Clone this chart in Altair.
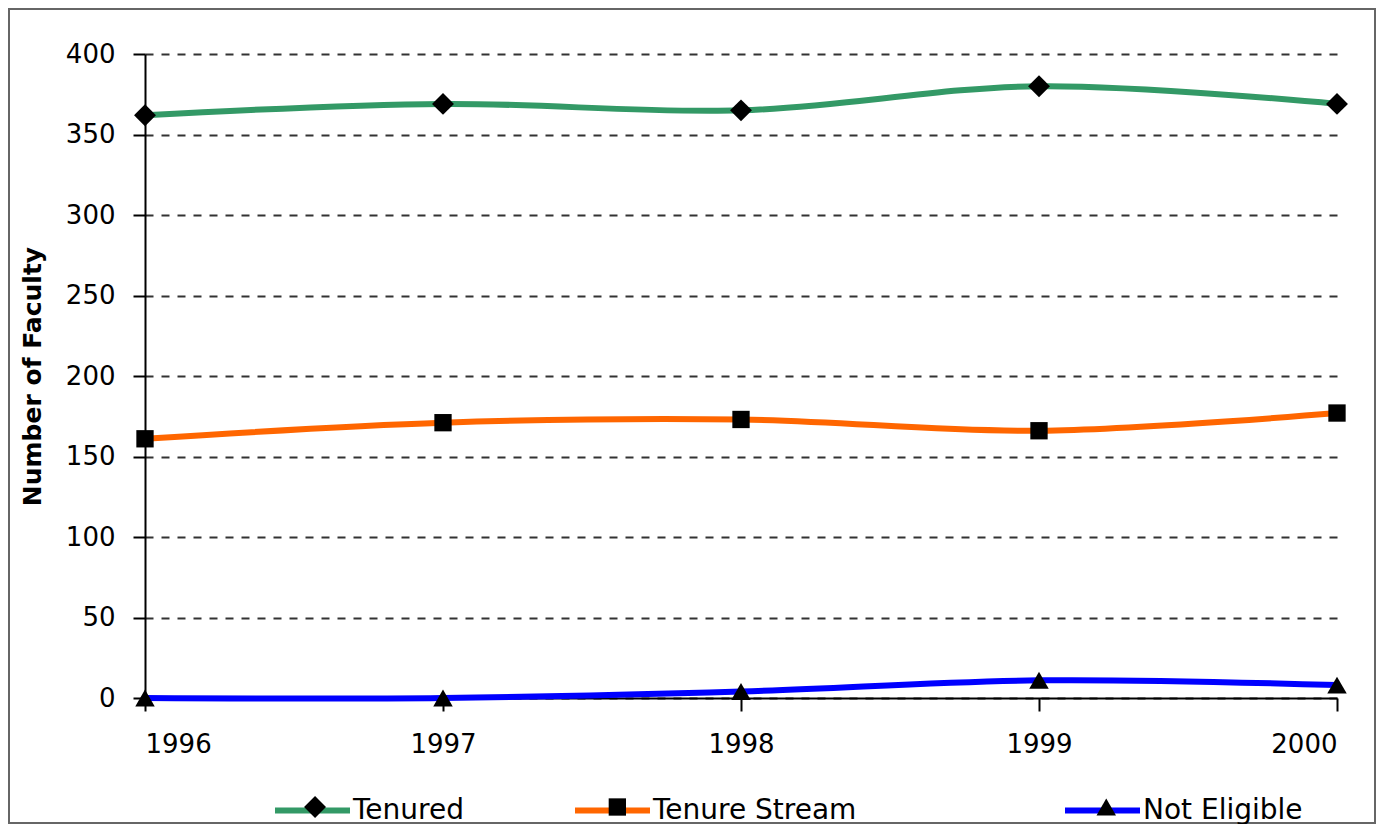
import altair as alt
import pandas as pd

years = [1996, 1997, 1998, 1999, 2000]
tenured = [362, 369, 365, 380, 369]
tenure_stream = [161, 171, 173, 166, 177]
not_eligible = [0, 0, 4, 11, 8]

series_names = ["Tenured", "Tenure Stream", "Not Eligible"]
series_values = [tenured, tenure_stream, not_eligible]
series_colors = ["#339966", "#FF6600", "#0000FF"]
series_shapes = ["diamond", "square", "triangle-up"]
marker_sizes = [480, 300, 380]
legend_x = [127, 427, 917]

rows = []
for name, vals in zip(series_names, series_values):
    for yr, v in zip(years, vals):
        rows.append({"year": yr, "value": v, "series": name})
df = pd.DataFrame(rows)

FONT = "DejaVu Sans"

x_enc = alt.X(
    "year:Q",
    scale=alt.Scale(domain=[1996, 2000], nice=False, zero=False),
    axis=alt.Axis(
        values=years, format="d", title=None, grid=False,
        labelFont=FONT, labelFontSize=26, labelColor="black",
        domainColor="black", domainWidth=2, tickColor="black", tickWidth=2,
        tickSize=13, labelPadding=20,
    ),
)
y_enc = alt.Y(
    "value:Q",
    scale=alt.Scale(domain=[0, 400], nice=False),
    axis=alt.Axis(
        values=[0, 50, 100, 150, 200, 250, 300, 350, 400],
        title="Number of Faculty", titleFont=FONT, titleFontSize=25,
        titleFontWeight="bold", titleColor="black", titleX=-100,
        labelFont=FONT, labelFontSize=26, labelColor="black",
        domainColor="black", domainWidth=2, tickColor="black", tickWidth=2,
        tickSize=12, labelPadding=18,
        grid=True, gridColor="#333333", gridWidth=2, gridDash=[8, 8],
    ),
)

layers = []
for name, col, shp, msz, lx in zip(series_names, series_colors, series_shapes, marker_sizes, legend_x):
    base = alt.Chart(df).transform_filter(alt.datum.series == name)
    line = base.mark_line(interpolate="catmull-rom", strokeWidth=6).encode(
        x=x_enc, y=y_enc,
        color=alt.Color(
            "series:N",
            scale=alt.Scale(domain=[name], range=[col]),
            legend=alt.Legend(
                orient="none", legendX=lx, legendY=716, direction="horizontal",
                title=None, padding=0, symbolType="stroke", symbolSize=5625,
                symbolStrokeWidth=6, labelFont=FONT, labelFontSize=28,
                labelColor="black", labelOffset=0, labelLimit=600,
            ),
        ),
    )
    pts = base.mark_point(filled=True, color="black", size=msz, opacity=1).encode(
        x=x_enc, y=y_enc,
        shape=alt.Shape(
            "series:N",
            scale=alt.Scale(domain=[name], range=[shp]),
            legend=alt.Legend(
                orient="none", legendX=lx + 40 - (msz ** 0.5) / 2, legendY=739,
                direction="horizontal",
                title=None, padding=0, symbolSize=msz, symbolFillColor="black",
                symbolStrokeColor="black", symbolStrokeWidth=0, symbolOpacity=1,
                labelFont=FONT, labelFontSize=28, labelExpr="''", labelLimit=600,
            ),
        ),
    )
    layers += [line, pts]

frame = alt.Chart(pd.DataFrame({"a": [0]})).mark_rect(
    fill="transparent", stroke="#666666", strokeWidth=2
).encode(
    x=alt.value(-136), x2=alt.value(1230), y=alt.value(-45), y2=alt.value(769)
)

chart = alt.layer(frame, *layers).resolve_scale(
    color="independent", shape="independent"
).properties(
    width=1192, height=644,
    padding={"left": 137, "top": 46, "right": 40, "bottom": 126},
    autosize=alt.AutoSizeParams(type="none"),
    background="white",
).configure_view(stroke=None)

chart.save("out.html", embed_options={"renderer": "svg", "actions": False})
